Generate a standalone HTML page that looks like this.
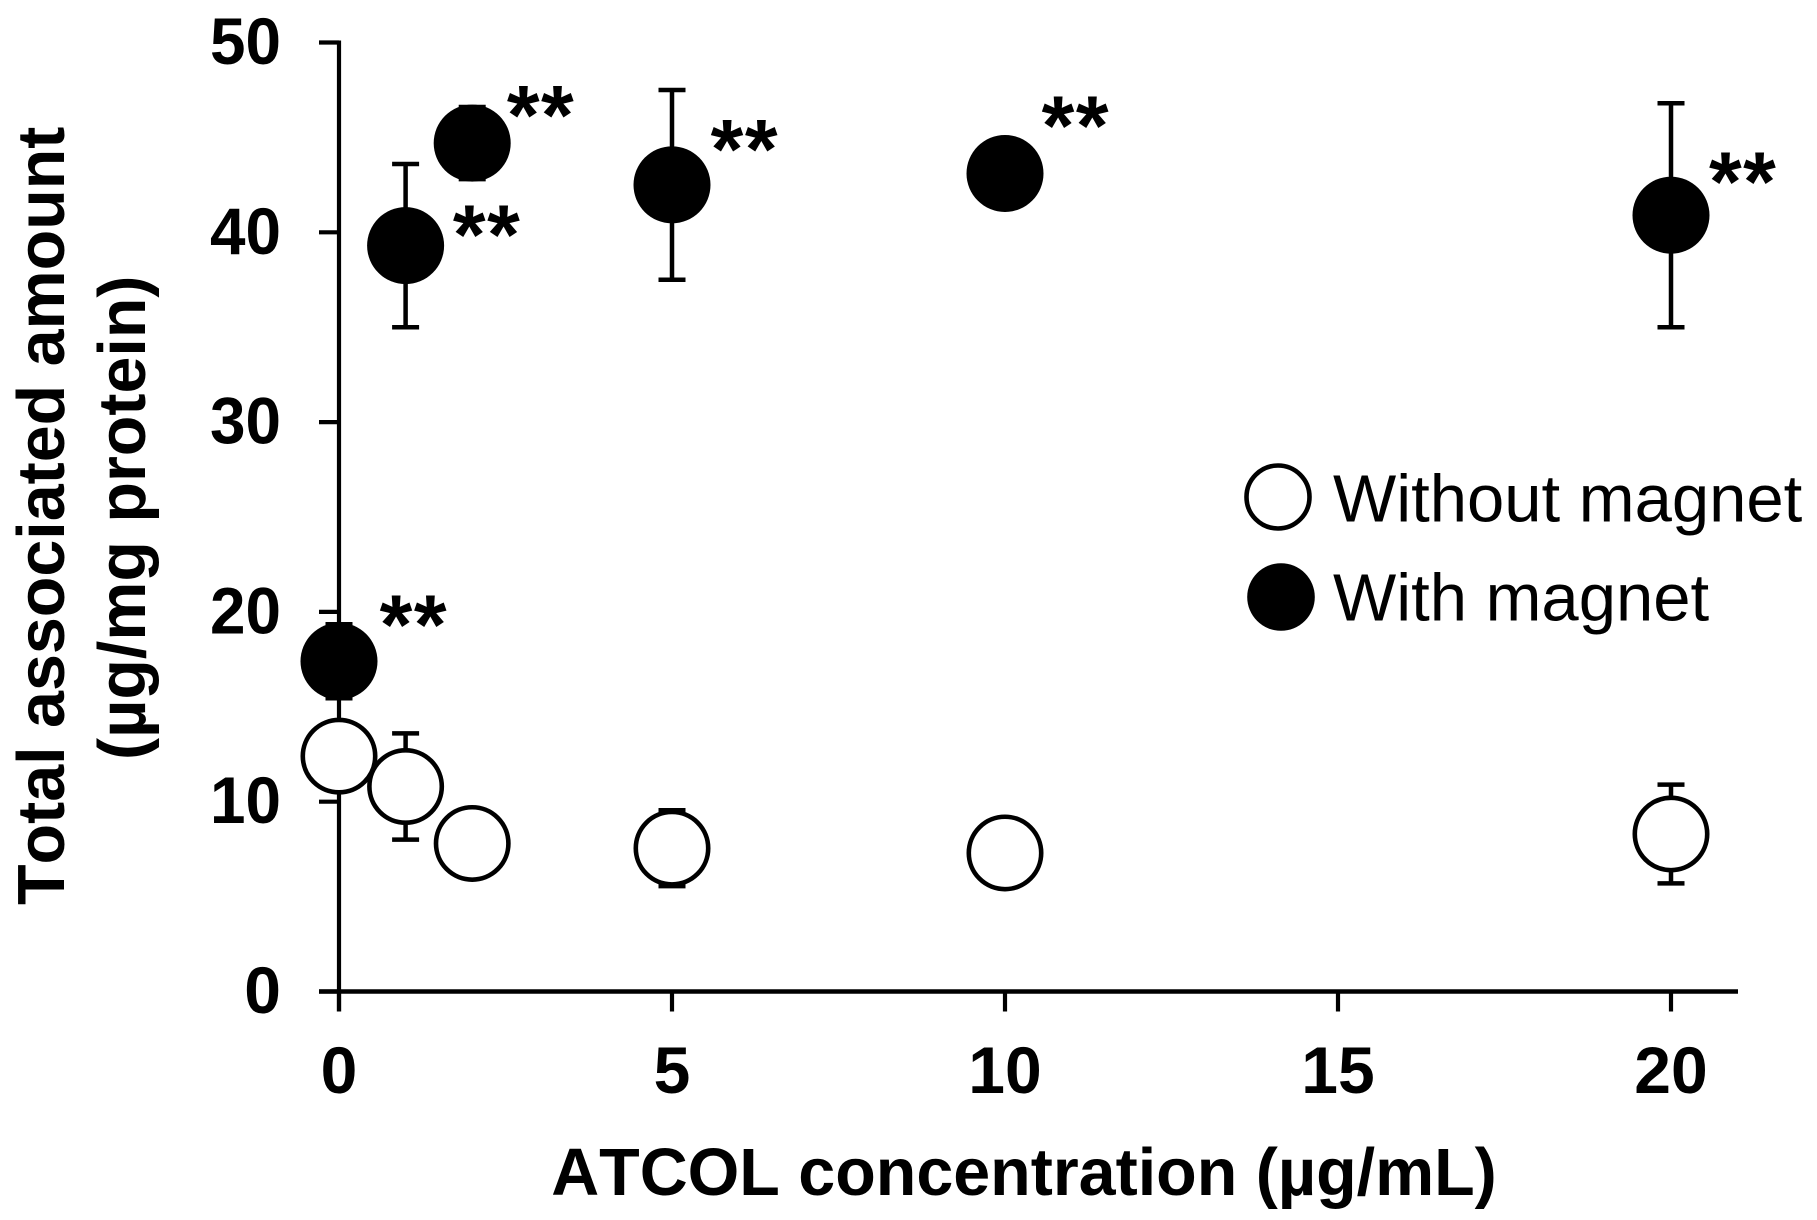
<!DOCTYPE html>
<html lang="en">
<head>
<meta charset="utf-8">
<title>Total associated amount vs ATCOL concentration</title>
<style>
html,body{margin:0;padding:0;background:#fff;}
svg{display:block;}
text{font-family:"Liberation Sans",Arial,sans-serif;fill:#000;font-kerning:none;}
.b{font-weight:700;font-size:66px;}
.t{font-weight:700;font-size:66.4px;}
.r{font-weight:400;font-size:67px;}
.s{font-weight:700;font-size:84px;letter-spacing:1.5px;}
</style>
</head>
<body>
<svg id="chart" xmlns="http://www.w3.org/2000/svg" width="1817" height="1220" viewBox="0 0 1817 1220">
  <rect x="0" y="0" width="1817" height="1220" fill="#fff"/>
  <g id="axes"></g>
  <g id="marks"></g>
  <g id="sig"></g>
  <text class="t" x="1024" y="1195" text-anchor="middle">ATCOL concentration (µg/mL)</text>
  <text class="t" transform="translate(64,905) rotate(-90)">Total associated amount</text>
  <text class="t" transform="translate(145,760) rotate(-90)">(µg/mg protein)</text>
  <g>
    <g>
      <circle cx="1278" cy="497" r="31.5" fill="#fff" stroke="#000" stroke-width="4.6"/>
      <text class="r" x="1333" y="521.5">Without magnet</text>
    </g>
    <g>
      <circle cx="1281" cy="597" r="33.8" fill="#000"/>
      <text class="r" x="1333" y="620.5">With magnet</text>
    </g>
  </g>
</svg>
<script>
const concentrations = [0, 1, 2, 5, 10, 20];
const withMagnet = [17.4, 39.3, 44.7, 42.5, 43.1, 40.9];
const withMagnetErr = [1.95, 4.3, 1.9, 5.0, 0.6, 5.9];
const withoutMagnet = [12.4, 10.8, 7.8, 7.55, 7.3, 8.3];
const withoutMagnetErr = [0.5, 2.8, 0.5, 2.0, 0.5, 2.6];
const xTicks = [0, 5, 10, 15, 20];
const yTicks = [0, 10, 20, 30, 40, 50];
const sigLabelX = [0.61, 1.71, 2.52, 5.58, 10.55, 20.57];
const sigLabelY = [17.8, 38.35, 44.65, 42.85, 44.1, 41.15];

const NS = 'http://www.w3.org/2000/svg';
const xScale = function (v) { return 339 + v * 66.6; };
const yScale = function (v) { return 991.5 - v * 18.98; };
const axes = document.getElementById('axes');
const marks = document.getElementById('marks');
const sig = document.getElementById('sig');

function make(parent, tag, attrs) {
  const el = document.createElementNS(NS, tag);
  Object.keys(attrs).forEach(function (k) { el.setAttribute(k, attrs[k]); });
  parent.appendChild(el);
  return el;
}
function line(parent, x1, y1, x2, y2, w) {
  return make(parent, 'line', { x1: x1, y1: y1, x2: x2, y2: y2, stroke: '#000', 'stroke-width': w });
}

const yAxisLine = line(axes, xScale(0), yScale(50) - 2, xScale(0), 1011.5, 4.2);


const xAxisLine = line(axes, 319, yScale(0), 1738, yScale(0), 4.6);



yTicks.forEach(function (t) {
  const tick = line(axes, 319, yScale(t), xScale(0), yScale(t), 4.2);
  
  
  const label = make(axes, 'text', { x: 281, y: yScale(t) + 21.5, 'text-anchor': 'end', class: 'b' });
  label.textContent = String(t);
  if (String(t).length === 2) {
    label.setAttribute('textLength', 71);
    label.setAttribute('lengthAdjust', 'spacingAndGlyphs');
  }
  
  
});
xTicks.forEach(function (t) {
  const tick = line(axes, xScale(t), yScale(0), xScale(t), 1011.5, 4.2);
  
  
  const label = make(axes, 'text', { x: xScale(t), y: 1093, 'text-anchor': 'middle', class: 'b' });
  label.textContent = String(t);
  
  
});

function drawError(x, y, err) {
  const g = make(marks, 'g', {});
  
  
  const px = xScale(x);
  line(g, px, yScale(y + err), px, yScale(y - err), 4.5);
  line(g, px - 13.5, yScale(y + err), px + 13.5, yScale(y + err), 4.5);
  line(g, px - 13.5, yScale(y - err), px + 13.5, yScale(y - err), 4.5);
}

withMagnet.forEach(function (v, i) {
  drawError(concentrations[i], v, withMagnetErr[i]);
  const dot = make(marks, 'circle', { cx: xScale(concentrations[i]), cy: yScale(v), r: 38.5, fill: '#000' });
  
  
});
withoutMagnet.forEach(function (v, i) {
  drawError(concentrations[i], v, withoutMagnetErr[i]);
  const dot = make(marks, 'circle', { cx: xScale(concentrations[i]), cy: yScale(v), r: 36.2, fill: '#fff', stroke: '#000', 'stroke-width': 4.6 });
  
  
});
sigLabelX.forEach(function (v, i) {
  const star = make(sig, 'text', { x: xScale(v), y: yScale(sigLabelY[i]), class: 's' });
  star.textContent = '**';
  
  
});
</script>
</body>
</html>
